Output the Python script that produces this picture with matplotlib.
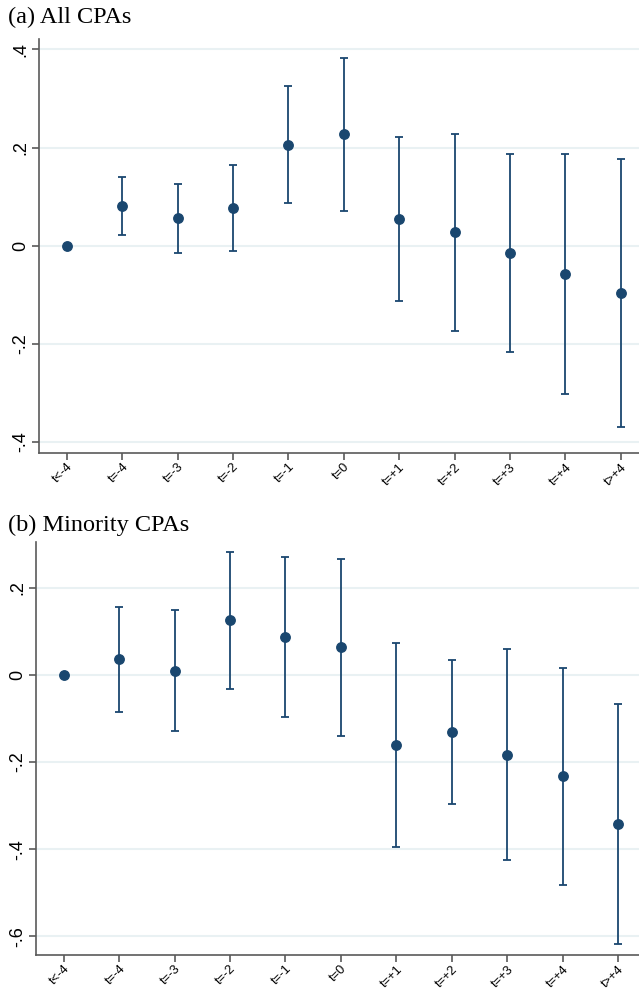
import matplotlib
matplotlib.use('Agg')
import matplotlib.pyplot as plt
import numpy as np

periods = ["t<-4", "t=-4", "t=-3", "t=-2", "t=-1", "t=0", "t=+1", "t=+2", "t=+3", "t=+4", "t>+4"]

# panel (a): all CPAs
all_coef = [0.0, 0.081, 0.056, 0.076, 0.205, 0.227, 0.054, 0.027, -0.015, -0.058, -0.096]
all_lo = [0.0, 0.022, -0.014, -0.011, 0.086, 0.071, -0.112, -0.174, -0.217, -0.302, -0.369]
all_hi = [0.0, 0.139, 0.126, 0.164, 0.326, 0.383, 0.221, 0.227, 0.187, 0.187, 0.177]

# panel (b): minority CPAs
min_coef = [0.0, 0.035, 0.009, 0.125, 0.086, 0.063, -0.161, -0.132, -0.183, -0.233, -0.342]
min_lo = [0.0, -0.085, -0.129, -0.032, -0.097, -0.140, -0.395, -0.297, -0.425, -0.482, -0.617]
min_hi = [0.0, 0.155, 0.149, 0.282, 0.269, 0.265, 0.073, 0.033, 0.060, 0.016, -0.066]

navy = "#1a476f"
grid_c = "#e9f1f3"
axis_c = "#5a5a5a"


def tick_fmt(v):
    s = "%.1f" % v
    if s in ("0.0", "-0.0"):
        return "0"
    return s.replace("0.", ".")


def draw_panel(ax, coef, lo, hi, yticks, ylim, xlim):
    x = np.arange(len(periods))
    coef = np.array(coef)
    err = np.vstack([coef - np.array(lo), np.array(hi) - coef])
    # base period has no interval
    ax.errorbar(x[1:], coef[1:], yerr=err[:, 1:], fmt="none", ecolor=navy,
                elinewidth=1.3, capsize=3.2, capthick=1.3, zorder=2)
    ax.plot(x, coef, "o", color=navy, markersize=6.8, zorder=3)

    ax.set_xlim(xlim)
    ax.set_ylim(ylim)
    ax.set_yticks(yticks)
    ax.set_yticklabels([tick_fmt(v) for v in yticks], rotation=90, va="center",
                       fontsize=13, family="Liberation Sans")
    ax.set_xticks(x)
    ax.set_xticklabels(periods, rotation=45, ha="right", rotation_mode="anchor",
                       fontsize=9.3, family="Liberation Sans")
    ax.tick_params(axis="both", colors=axis_c, length=5, width=1.2, labelcolor="black")
    ax.tick_params(axis="y", pad=2)
    ax.tick_params(axis="x", pad=1)
    for v in yticks:
        ax.axhline(v, color=grid_c, lw=1.5, zorder=0)
    for side in ("top", "right"):
        ax.spines[side].set_visible(False)
    for side in ("left", "bottom"):
        ax.spines[side].set_color(axis_c)
        ax.spines[side].set_linewidth(1.2)


fig = plt.figure(figsize=(6.39, 9.88), dpi=100)

ax1 = fig.add_axes([0.0615, 0.5418, 0.9385, 0.4187])
draw_panel(ax1, all_coef, all_lo, all_hi, [-0.4, -0.2, 0, 0.2, 0.4],
           (-0.4216, 0.421), (-0.495, 10.33))

ax2 = fig.add_axes([0.0563, 0.0337, 0.9437, 0.418])
draw_panel(ax2, min_coef, min_lo, min_hi, [-0.6, -0.4, -0.2, 0, 0.2],
           (-0.642, 0.305), (-0.5, 10.38))

fig.text(8 / 639, 1 - 17 / 988, "(a) All CPAs", family="Liberation Serif",
         fontsize=17.5, va="center", ha="left")
fig.text(8 / 639, 1 - 525 / 988, "(b) Minority CPAs", family="Liberation Serif",
         fontsize=17.5, va="center", ha="left")

fig.savefig("out.png", dpi=100, facecolor="white")
